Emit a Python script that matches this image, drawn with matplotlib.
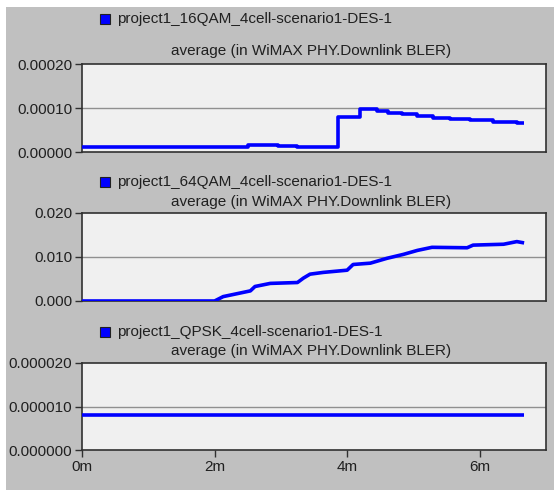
import numpy as np
import matplotlib.pyplot as plt
from matplotlib.patches import Rectangle

plt.rcParams['font.family'] = ['Liberation Sans', 'DejaVu Sans']

# time axis in minutes, values are BLER averages
t_16qam = [0.0, 2.50, 2.96, 3.25, 3.86, 4.20, 4.45, 4.62, 4.83, 5.05, 5.30, 5.55, 5.86, 6.20, 6.56, 6.67]
bler_16qam = [1.2e-5, 1.5e-5, 1.3e-5, 1.1e-5, 8.0e-5, 9.8e-5, 9.3e-5, 8.9e-5, 8.6e-5, 8.2e-5,
              7.8e-5, 7.6e-5, 7.3e-5, 6.9e-5, 6.6e-5, 6.6e-5]

t_64qam = [0.0, 2.00, 2.13, 2.54, 2.61, 2.84, 3.25, 3.34, 3.44, 3.64, 4.00, 4.09, 4.35,
           4.60, 4.85, 5.06, 5.28, 5.81, 5.90, 6.36, 6.56, 6.67]
bler_64qam = [0.0, 0.0, 0.0010, 0.0023, 0.0033, 0.0040, 0.0042, 0.0052, 0.0061, 0.0065, 0.0070,
              0.0083, 0.0086, 0.0097, 0.0106, 0.0115, 0.0122, 0.0121, 0.0127, 0.0129, 0.0135, 0.0132]

t_qpsk = [0.0, 6.67]
bler_qpsk = [8.0e-6, 8.0e-6]

legend_names = ['project1_16QAM_4cell-scenario1-DES-1',
                'project1_64QAM_4cell-scenario1-DES-1',
                'project1_QPSK_4cell-scenario1-DES-1']
stat_title = 'average (in WiMAX PHY.Downlink BLER)'
y_max = [0.0002, 0.02, 0.00002]
y_fmt = ['{:.5f}', '{:.3f}', '{:.6f}']
x_ticks = [0, 2, 4, 6]

W, H = 554, 497
fig = plt.figure(figsize=(W / 100, H / 100), dpi=100)
fig.patch.set_facecolor('white')
# gray panel behind everything
fig.patches.append(Rectangle((6 / W, 1 - 490 / H), 548 / W, 483 / H, transform=fig.transFigure,
                             facecolor='#c0c0c0', edgecolor='none', zorder=-5))

# axes boxes in pixels: top, bottom
boxes = [(64, 152), (213, 301), (363, 450)]
legend_y = [19, 182, 332]
title_y = [51, 202, 351]
series = [(t_16qam, bler_16qam, 'steps-post'), (t_64qam, bler_64qam, 'default'),
          (t_qpsk, bler_qpsk, 'default')]

for i, ((top, bot), (t, v, ds)) in enumerate(zip(boxes, series)):
    ax = fig.add_axes([82 / W, 1 - bot / H, 464 / W, (bot - top) / H])
    ax.set_zorder(1)
    ax.set_facecolor('#f0f0f0')
    ax.plot(t, v, color='#0000ff', lw=2.6, drawstyle=ds, solid_capstyle='butt', zorder=3)
    ax.axhline(y_max[i] / 2, color='#909090', lw=1.0, zorder=1)
    ax.set_xlim(0, 7)
    ax.set_ylim(0, y_max[i])
    yt = [0, y_max[i] / 2, y_max[i]]
    ax.set_yticks(yt)
    ax.set_yticklabels([y_fmt[i].format(y) for y in yt])
    if i == 2:
        ax.set_xticks(x_ticks)
        ax.set_xticklabels([f'{x}m' for x in x_ticks])
    else:
        ax.set_xticks([])
    ax.tick_params(direction='out', length=5, width=1, color='#303030', labelsize=11,
                   labelcolor='#202020', pad=2)
    for s in ax.spines.values():
        s.set_color('#303030')
        s.set_linewidth(1.2)

    # legend swatch and names
    fig.patches.append(Rectangle((100 / W, 1 - (legend_y[i] + 5) / H), 10 / W, 10 / H,
                                 transform=fig.transFigure, facecolor='#0000ff',
                                 edgecolor='#202020', lw=0.8, zorder=2))
    fig.text(117 / W, 1 - legend_y[i] / H, legend_names[i], ha='left', va='center',
             fontsize=11, color='#202020')
    fig.text(311 / W, 1 - title_y[i] / H, stat_title, ha='center', va='center',
             fontsize=11, color='#202020')

fig.savefig('out.png', dpi=100)
